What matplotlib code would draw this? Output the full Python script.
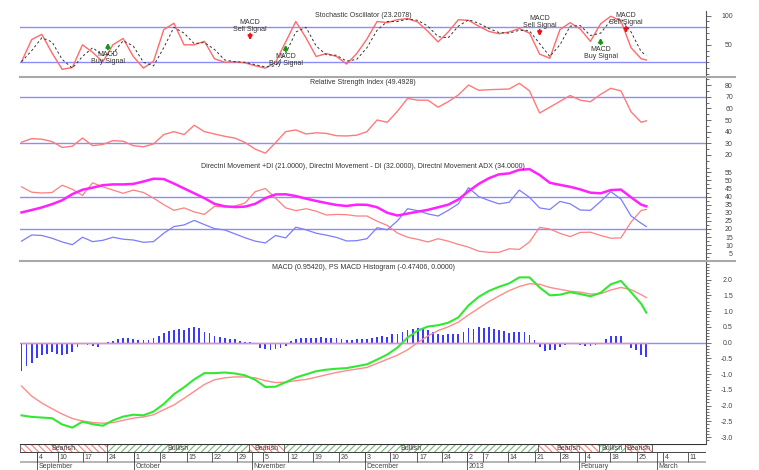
import numpy as np
import matplotlib.pyplot as plt
from matplotlib.lines import Line2D
from matplotlib.patches import Rectangle

plt.rcParams['font.family'] = ['Liberation Sans', 'DejaVu Sans']
plt.rcParams['hatch.linewidth'] = 0.8

# bars are trading days (Aug 29 2012 .. Feb 28 2013), 124 of them
line_x = np.r_[np.arange(0, 123, 2), 123]   # bars where the lines were read
hist_x = np.arange(124)

stoch_k = [21, 59, 68, 36, 8, 11, 50, 37, 21, 50,
           61, 30, 10, 22, 76, 87, 50, 50, 56, 26,
           20, 21, 19, 14, 10, 20, 55, 90, 62, 30,
           35, 30, 17, 35, 60, 90, 88, 93, 95, 89,
           73, 55, 72, 93, 92, 82, 73, 69, 72, 78,
           70, 34, 27, 76, 88, 77, 56, 86, 99, 91,
           45, 26, 24]
stoch_d = [21, 40, 62, 55, 25, 10, 30, 45, 32, 35,
           57, 48, 20, 14, 45, 80, 70, 52, 54, 42,
           24, 21, 20, 16, 12, 14, 35, 72, 80, 48,
           33, 32, 22, 25, 45, 75, 90, 90, 94, 92,
           82, 64, 62, 82, 93, 87, 78, 71, 70, 75,
           74, 52, 30, 50, 82, 83, 66, 70, 92, 95,
           72, 38, 32]
rsi = [31, 34, 33.5, 31.5, 26.5, 27.5, 34.5, 28, 29, 32.3,
       31.8, 28, 27, 29.5, 37.5, 40, 37.5, 45.5, 40, 38,
       36, 34.5, 30.7, 25, 21.5, 30.5, 40, 41.5, 38, 39,
       38.5, 36.5, 36.3, 37, 40, 50, 48, 57.5, 68.5, 67,
       67, 61, 65.7, 71.5, 80, 75.5, 76, 76.3, 76.6, 81.5,
       75, 56, 61, 66, 71, 67, 65.7, 72, 77.2, 75,
       57, 48, 49.3]
di_minus = [46, 42.7, 42.2, 42.5, 47, 44.5, 40.7, 48.5, 46, 44,
            42, 44, 42.5, 39, 35, 31.5, 33, 30.5, 29, 34,
            33.5, 34.2, 36, 43, 45, 39, 33, 31.3, 32.5, 31,
            28.6, 29, 28.8, 28, 28, 24.8, 22.2, 17.5, 14.9, 13.6,
            12, 14, 12.5, 10.5, 8.8, 6.3, 5.6, 5.6, 7.8, 7.4,
            12, 21, 20, 17.3, 15.3, 17.9, 18, 16, 14.3, 14.5,
            24.3, 31.5, 32]
di_plus = [12.5, 16.3, 16, 14.3, 12, 10.3, 14.9, 12.2, 13, 14.9,
           13.7, 13.2, 11.8, 12.2, 17.4, 21.5, 22.5, 25.3, 22.7, 20.2,
           19.4, 17, 14.6, 12.5, 11.4, 16, 14.5, 21.1, 19.5, 17.4,
           16.2, 14.8, 12.6, 12.8, 14, 20.8, 19.5, 25, 32.5, 31.3,
           29.3, 28, 31.5, 35.5, 45.5, 40, 37.6, 35.5, 36.5, 44,
           39.5, 33, 32, 37, 35.5, 31.7, 31.5, 37, 43, 38.5,
           28, 23.5, 21.5]
adx = [30.2, 31.7, 33.3, 35.3, 37.7, 41.5, 44.2, 45.5, 47, 47.5,
       47.5, 47.8, 49.3, 51, 50.8, 48, 45, 42, 39, 35.5,
       34, 33.5, 33.8, 35.5, 39, 41.3, 41.4, 40.3, 38.7, 37.3,
       36, 34.8, 34.2, 35, 34.9, 33.4, 30, 28.3, 29.5, 30.7,
       31.8, 33.4, 35, 38.2, 43.3, 47.8, 51.3, 53.7, 54.3, 56.5,
       56.9, 53.3, 48.5, 47.2, 46, 44.4, 42.4, 42, 44, 44.3,
       39.5, 35, 34]
macd = [-2.31, -2.36, -2.38, -2.40, -2.60, -2.70, -2.51, -2.59, -2.64, -2.47,
        -2.35, -2.29, -2.31, -2.19, -1.95, -1.64, -1.42, -1.17, -0.97, -0.97,
        -0.95, -0.98, -1.04, -1.18, -1.41, -1.40, -1.26, -1.11, -1.01, -0.91,
        -0.86, -0.83, -0.81, -0.75, -0.69, -0.54, -0.38, -0.16, 0.16, 0.38,
        0.51, 0.55, 0.63, 0.80, 1.18, 1.45, 1.64, 1.77, 1.88, 2.07,
        2.07, 1.75, 1.50, 1.52, 1.60, 1.54, 1.47, 1.58, 1.85, 1.96,
        1.60, 1.23, 0.95]
macd_signal = [-1.38, -1.70, -1.92, -2.10, -2.27, -2.41, -2.49, -2.54, -2.56, -2.54,
               -2.47, -2.40, -2.36, -2.29, -2.13, -1.98, -1.77, -1.55, -1.33, -1.18,
               -1.12, -1.09, -1.09, -1.12, -1.21, -1.27, -1.26, -1.21, -1.17, -1.10,
               -1.02, -0.95, -0.89, -0.84, -0.79, -0.66, -0.53, -0.40, -0.23, 0.0,
               0.21, 0.38, 0.50, 0.65, 0.88, 1.09, 1.30, 1.48, 1.65, 1.78,
               1.87, 1.85, 1.75, 1.69, 1.63, 1.60, 1.54, 1.55, 1.67, 1.75,
               1.68, 1.52, 1.43]
hist = [-0.90, -0.73, -0.66, -0.50, -0.41, -0.36, -0.31, -0.36, -0.39, -0.37,
        -0.29, -0.13, -0.04, -0.08, -0.12, -0.15, -0.05, 0.03, 0.06, 0.12,
        0.16, 0.16, 0.11, 0.07, 0.07, 0.08, 0.14, 0.22, 0.30, 0.37,
        0.41, 0.43, 0.39, 0.46, 0.48, 0.46, 0.35, 0.29, 0.22, 0.19,
        0.16, 0.12, 0.10, 0.05, 0.01, 0.01, -0.05, -0.16, -0.21, -0.25,
        -0.20, -0.18, -0.10, 0.05, 0.12, 0.16, 0.16, 0.16, 0.15, 0.18,
        0.14, 0.14, 0.13, 0.11, 0.07, 0.07, 0.10, 0.10, 0.12, 0.15,
        0.19, 0.21, 0.19, 0.26, 0.28, 0.35, 0.41, 0.43, 0.46, 0.43,
        0.39, 0.33, 0.28, 0.24, 0.26, 0.26, 0.28, 0.35, 0.46, 0.43,
        0.48, 0.46, 0.48, 0.43, 0.39, 0.37, 0.30, 0.33, 0.35, 0.33,
        0.24, 0.08, -0.13, -0.26, -0.25, -0.23, -0.13, -0.07, -0.05, -0.05,
        -0.07, -0.10, -0.12, -0.07, -0.02, 0.10, 0.20, 0.20,
        0.21, -0.02, -0.16, -0.23, -0.41, -0.47]
hist_zero = np.zeros(len(hist))   # second histogram value (0.0000)

# MACD signals: bar, kind, stochastic level of the arrow head
signal_bars = [17, 45, 52, 102, 114, 119]
signal_kind = ['Buy', 'Sell', 'Buy', 'Sell', 'Buy', 'Sell']
signal_level = [53.1, 58.3, 49.7, 65.1, 61.7, 70.3]

day_ticks = [3.05, 7.2, 12.1, 16.8, 22.1, 27.3, 32.6, 37.5, 42.4, 47.5, 52.5, 57.4,
             62.5, 67.6, 72.5, 77.9, 82.8, 87.7, 90.8, 95.8, 101.1, 106, 110.9,
             115.8, 121.1, 126.3, 131.2]
day_labels = ['4', '10', '17', '24', '1', '8', '15', '22', '29', '5', '12', '19',
              '26', '3', '10', '17', '24', '2', '7', '14', '21', '28', '4',
              '18', '25', '4', '11']
month_ticks = [3.05, 22.1, 45.4, 67.6, 87.7, 109.7, 125.1]
month_labels = ['September', 'October', 'November', 'December', '2013', 'February', 'March']

W, H = 759, 470
X0, X1 = 20, 706
XLIM = (-0.3, 134.75)
REF = '#8c8cff'
TXT = '#333333'

fig = plt.figure(figsize=(W / 100, H / 100), dpi=100)


def panel(top, bottom, ylim):
    ax = fig.add_axes([X0 / W, 1 - bottom / H, (X1 - X0) / W, (bottom - top) / H])
    ax.set_xlim(*XLIM)
    ax.set_ylim(*ylim)
    ax.patch.set_alpha(0)
    for s in ('top', 'left', 'bottom'):
        ax.spines[s].set_visible(False)
    ax.spines['right'].set_color('#555555')
    ax.spines['right'].set_linewidth(0.8)
    ax.xaxis.set_visible(False)
    ax.yaxis.tick_right()
    return ax


def right_ticks(ax, major, labels, minor):
    ax.tick_params(axis='y', which='both', direction='out', color='#555555', width=0.6,
                   labelsize=5, labelcolor='#444444', pad=15.8)
    ax.tick_params(axis='y', which='major', length=3.6)
    ax.tick_params(axis='y', which='minor', length=1.8)
    ax.set_yticks(major, labels=labels, ha='right')
    ax.set_yticks(minor, minor=True)


def title(ax, text, dy):
    ax.annotate(text, (0.5, 1), xycoords='axes fraction', xytext=(0, -dy),
                textcoords='offset points', ha='center', va='center',
                fontsize=5, color=TXT, annotation_clip=False)


# Stochastic
ax = panel(11, 77, (-5.2, 108))
ax.axhline(80, color=REF, lw=1.0)
ax.axhline(20, color=REF, lw=1.0)
ax.plot(line_x, stoch_k, color='#ff6a6a', lw=1.0)
ax.plot(line_x, stoch_d, color='#333333', lw=0.7, dashes=(2.5, 2.5))
right_ticks(ax, [50, 100], ['50', '100'], np.arange(0, 101, 10))
title(ax, 'Stochastic Oscillator (23.2078)', 2.9)
for b, kind, lvl in zip(signal_bars, signal_kind, signal_level):
    buy = kind == 'Buy'
    col = '#119911' if buy else '#ee1111'
    ax.annotate('', xy=(b, lvl), xytext=(0, -4.6 if buy else 4.6), textcoords='offset points',
                arrowprops=dict(arrowstyle='-|>,head_length=0.45,head_width=0.25',
                                mutation_scale=5, color=col, lw=1.3, shrinkA=0, shrinkB=0))
    if buy:
        ax.annotate('MACD\nBuy Signal', (b, lvl), xytext=(0, -6.0), textcoords='offset points',
                    ha='center', va='top', fontsize=5, linespacing=1.0, color=TXT)
    else:
        ax.annotate('MACD\nSell Signal', (b, lvl), xytext=(0, 5.0), textcoords='offset points',
                    ha='center', va='bottom', fontsize=5, linespacing=1.0, color=TXT)

# RSI
ax = panel(77, 163, (13.1, 86.9))
ax.axhline(70, color=REF, lw=1.0)
ax.axhline(30, color=REF, lw=1.0)
ax.plot(line_x, rsi, color='#ff7a7a', lw=1.0)
right_ticks(ax, np.arange(20, 81, 10), [str(v) for v in range(20, 81, 10)], np.arange(15, 86, 5))
title(ax, 'Relative Strength Index (49.4928)', 3.6)

# Directional movement
ax = panel(163, 261, (0.25, 60.7))
ax.axhline(40, color=REF, lw=1.0)
ax.axhline(20, color=REF, lw=1.0)
ax.plot(line_x, di_minus, color='#ff8080', lw=0.9)
ax.plot(line_x, di_plus, color='#7c7cff', lw=0.9)
ax.plot(line_x, adx, color='#ff22ff', lw=1.8)
right_ticks(ax, np.arange(5, 56, 5), [str(v) for v in range(5, 56, 5)], np.arange(2.5, 60, 2.5))
title(ax, 'Directnl Movement +DI (21.0000), Directnl Movement - DI (32.0000), '
          'Directnl Movement ADX (34.0000)', 2.2)

# MACD
ax = panel(261, 444, (-3.22, 2.59))
ax.axhline(0, color=REF, lw=1.0)
ax.bar(hist_x, hist, width=0.35, color='#3a3aff', linewidth=0)
ax.plot(hist_x, hist_zero, color='#ff8c8c', lw=1.0)
ax.plot(line_x, macd_signal, color='#ff8c8c', lw=1.0)
ax.plot(line_x, macd, color='#33e833', lw=1.5)
mt = np.arange(-3.0, 2.01, 0.5)
right_ticks(ax, mt, [f'{v:.1f}' for v in mt], np.arange(-3.1, 2.55, 0.1))
title(ax, 'MACD (0.95420), PS MACD Histogram (-0.47406, 0.0000)', 5.0)

# separators
for yy in (77, 261):
    fig.add_artist(Line2D([X0 / W, 735 / W], [1 - yy / H] * 2, transform=fig.transFigure,
                          color='#a8a8a8', lw=1.5))

# trend band and date rows
axb = fig.add_axes([X0 / W, 0, (X1 - X0) / W, 26 / H])
axb.set_xlim(*XLIM)
axb.set_ylim(26, 0)
axb.axis('off')
edges = [XLIM[0]] + [b - 0.25 for b in signal_bars] + [len(hist) + 0.1]
kinds = ['Bearish'] + ['Bullish' if k == 'Buy' else 'Bearish' for k in signal_kind]
for a, b, k in zip(edges[:-1], edges[1:], kinds):
    col = '#ff7a7a' if k == 'Bearish' else '#70bb70'
    hatch = '\\\\\\\\\\' if k == 'Bearish' else '/////'
    axb.add_patch(Rectangle((a, 0), b - a, 8.3, facecolor='white', edgecolor=col,
                            hatch=hatch, lw=0))
    axb.add_patch(Rectangle((a, 0), b - a, 8.3, facecolor='none', edgecolor='#666666', lw=0.7))
    axb.text((a + b) / 2, 4.6, k, ha='center', va='center', fontsize=5, color='#444444')
axb.axhline(0, color='#333333', lw=0.8)
axb.axhline(8.3, color='#444444', lw=0.7)
axb.axhline(17.7, color='#b4b4b4', lw=1.4)
axb.vlines(day_ticks, 8.3, 17.7, color='#444444', lw=0.6)
axb.vlines(month_ticks, 8.3, 26, color='#444444', lw=0.6)
for p, lbl in zip(day_ticks, day_labels):
    axb.annotate(lbl, (p, 13.4), xytext=(1.3, 0), textcoords='offset points',
                 ha='left', va='center', fontsize=5, color='#444444')
for p, lbl in zip(month_ticks, month_labels):
    axb.annotate(lbl, (p, 22.6), xytext=(1.0, 0), textcoords='offset points',
                 ha='left', va='center', fontsize=5, color='#444444')

fig.savefig('out.png', dpi=100)
